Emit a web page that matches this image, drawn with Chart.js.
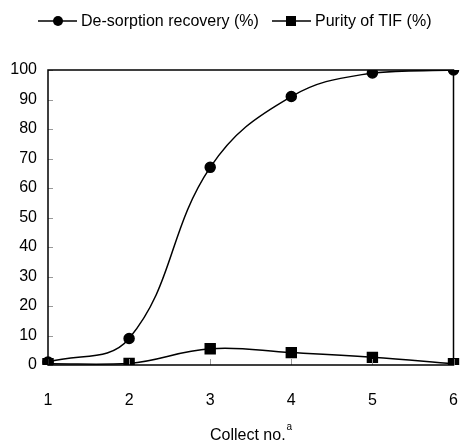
<!DOCTYPE html>
<html>
<head>
<meta charset="utf-8">
<script src="https://cdn.jsdelivr.net/npm/chart.js@4"></script>
<style>
  html, body { margin: 0; padding: 0; background: #fff; }
  #wrap { width: 462px; height: 442px; position: relative; }
</style>
</head>
<body>
<div id="wrap"><canvas id="chart" width="462" height="442"></canvas></div>
<script>
// Dados
const collectNo = ['1', '2', '3', '4', '5', '6'];
const desorption = [1, 9, 67, 91, 99, 100];
const purity = [0.4, 0.5, 5.5, 4.2, 2.6, 0.4];
const yTicks = [0, 10, 20, 30, 40, 50, 60, 70, 80, 90, 100];

const FONT = '"Liberation Sans", Arial, sans-serif';

// Moldura, ticks internos, legenda e título do eixo x
const framePlugin = {
    id: 'frame',
    afterDraw(chart) {
        const { ctx, chartArea: a, scales } = chart;
        ctx.save();
        // ticks internos (cinza)
        ctx.strokeStyle = '#999';
        ctx.lineWidth = 1;
        yTicks.forEach(v => {
            const y = Math.round(scales.y.getPixelForValue(v)) + 0.5;
            ctx.beginPath(); ctx.moveTo(a.left, y); ctx.lineTo(a.left + 5, y); ctx.stroke();
        });
        collectNo.forEach((c, i) => {
            const x = Math.round(scales.x.getPixelForValue(i)) + 0.5;
            ctx.beginPath(); ctx.moveTo(x, a.bottom); ctx.lineTo(x, a.bottom - 6); ctx.stroke();
        });
        // moldura
        ctx.strokeStyle = '#000';
        ctx.lineWidth = 1.5;
        ctx.strokeRect(a.left, a.top, a.right - a.left, a.bottom - a.top);

        // legenda
        ctx.fillStyle = '#000';
        ctx.lineWidth = 1.5;
        ctx.font = '16px ' + FONT;
        ctx.textBaseline = 'middle';
        const ly = 21;
        const drawItem = (x0, label, square) => {
            ctx.beginPath(); ctx.moveTo(x0, ly); ctx.lineTo(x0 + 39, ly); ctx.stroke();
            if (square) ctx.fillRect(x0 + 14, ly - 5, 10, 10);
            else { ctx.beginPath(); ctx.arc(x0 + 20, ly, 5, 0, Math.PI * 2); ctx.fill(); }
            ctx.fillText(label, x0 + 43, ly + 1);
        };
        drawItem(38, 'De-sorption recovery (%)', false);
        drawItem(272, 'Purity of TIF (%)', true);

        // título do eixo x com sobrescrito
        ctx.font = '16px ' + FONT;
        ctx.textBaseline = 'alphabetic';
        ctx.fillText('Collect no.', 210, 440);
        const w = ctx.measureText('Collect no.').width;
        ctx.font = '10px ' + FONT;
        ctx.fillText('a', 210 + w + 1, 430);
        ctx.restore();
    }
};

new Chart(document.getElementById('chart'), {
    type: 'line',
    data: {
        labels: collectNo,
        datasets: [
            {
                label: 'De-sorption recovery (%)',
                data: desorption,
                borderColor: '#000',
                backgroundColor: '#000',
                borderWidth: 1.5,
                pointStyle: 'circle',
                pointRadius: 5,
                tension: 0.4
            },
            {
                label: 'Purity of TIF (%)',
                data: purity,
                borderColor: '#000',
                backgroundColor: '#000',
                borderWidth: 1.5,
                pointStyle: 'rect',
                pointRadius: 7,
                tension: 0.4
            }
        ]
    },
    options: {
        responsive: false,
        animation: false,
        layout: { padding: { top: 70, right: 7, left: 0, bottom: 0 } },
        plugins: { legend: { display: false }, tooltip: { enabled: false } },
        scales: {
            x: {
                offset: false,
                grid: { display: false, drawTicks: false },
                border: { display: false },
                ticks: { color: '#000', font: { family: FONT, size: 16 }, padding: 26, maxRotation: 0 },
                afterFit: s => { s.height = 77; s.paddingLeft = 0; s.paddingRight = 0; }
            },
            y: {
                min: 0,
                max: 100,
                afterBuildTicks: s => { s.ticks = yTicks.map(v => ({ value: v })); },
                grid: { display: false, drawTicks: false },
                border: { display: false },
                ticks: { color: '#000', font: { family: FONT, size: 16 }, padding: 11 },
                afterFit: s => { s.width = 48; s.paddingTop = 0; s.paddingBottom = 0; }
            }
        }
    },
    plugins: [framePlugin]
});
</script>
</body>
</html>
